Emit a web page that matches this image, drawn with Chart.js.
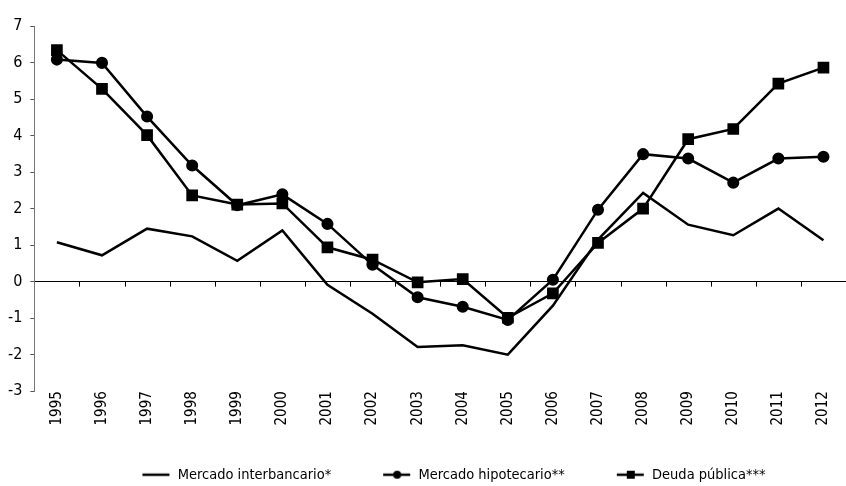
<!DOCTYPE html>
<html>
<head>
<meta charset="utf-8">
<script src="https://cdn.jsdelivr.net/npm/chart.js@4/dist/chart.umd.min.js"></script>
<style>
  html, body { margin: 0; padding: 0; background: #fff; }
  #wrap { width: 846px; height: 486px; }
</style>
</head>
<body>
<div id="wrap"><canvas id="chart" width="846" height="486"></canvas></div>
<script>
const years = ['1995','1996','1997','1998','1999','2000','2001','2002','2003','2004','2005','2006','2007','2008','2009','2010','2011','2012'];
const interbancario = [1.08, 0.72, 1.45, 1.24, 0.57, 1.40, -0.09, -0.88, -1.79, -1.74, -2.0, -0.66, 1.15, 2.43, 1.56, 1.27, 2.0, 1.13];
const hipotecario = [6.08, 5.99, 4.52, 3.18, 2.09, 2.39, 1.58, 0.46, -0.43, -0.69, -1.05, 0.05, 1.97, 3.49, 3.37, 2.71, 3.37, 3.42];
const deuda = [6.34, 5.28, 4.01, 2.36, 2.11, 2.14, 0.94, 0.60, -0.02, 0.07, -0.99, -0.32, 1.06, 2.0, 3.90, 4.18, 5.42, 5.86];
const seriesNames = ['Mercado interbancario*', 'Mercado hipotecario**', 'Deuda pública***'];

const FONT = '"Liberation Sans Narrow", "DejaVu Sans Condensed", "Roboto", sans-serif';

// legend icons: line with marker, with empty room on the left as spacing
function legendIcon(marker) {
  const c = document.createElement('canvas');
  c.width = 70; c.height = 12;
  const g = c.getContext('2d');
  g.strokeStyle = '#000'; g.fillStyle = '#000'; g.lineWidth = 2.5;
  g.beginPath(); g.moveTo(42, 6); g.lineTo(69, 6); g.stroke();
  if (marker === 'circle') {
    g.beginPath(); g.arc(56, 6, 4, 0, Math.PI * 2); g.fill();
  } else if (marker === 'rect') {
    g.fillRect(52, 2, 8, 8);
  }
  return c;
}
const icons = [legendIcon(null), legendIcon('circle'), legendIcon('rect')];

// small ticks hanging below the zero line, legend nudged right
const zeroTicks = {
  id: 'zeroTicks',
  afterLayout(chart) {
    chart.legend.left += 10;
    chart.legend.right += 10;
  },
  afterDatasetsDraw(chart) {
    const { ctx, scales: { x, y } } = chart;
    const y0 = y.getPixelForValue(0);
    ctx.save();
    ctx.strokeStyle = '#000';
    ctx.lineWidth = 1;
    for (let i = 1; i < years.length; i++) {
      const px = Math.round((x.getPixelForValue(i - 1) + x.getPixelForValue(i)) / 2) + 0.5;
      ctx.beginPath(); ctx.moveTo(px, y0); ctx.lineTo(px, y0 + 5); ctx.stroke();
    }
    ctx.restore();
  }
};

const common = { borderColor: '#000', backgroundColor: '#000', borderWidth: 2.5, tension: 0, fill: false };

new Chart(document.getElementById('chart'), {
  type: 'line',
  data: {
    labels: years,
    datasets: [
      { ...common, label: seriesNames[0], data: interbancario, pointRadius: 0 },
      { ...common, label: seriesNames[1], data: hipotecario, pointStyle: 'circle', pointRadius: 4.8 },
      { ...common, label: seriesNames[2], data: deuda, pointStyle: 'rect', pointRadius: 6.5 }
    ]
  },
  options: {
    responsive: false,
    animation: false,
    layout: { autoPadding: false, padding: { left: 0, right: 0, top: 26, bottom: -6 } },
    plugins: {
      tooltip: { enabled: false },
      legend: {
        position: 'bottom',
        labels: {
          usePointStyle: true,
          pointStyleWidth: 70,
          color: '#000',
          font: { family: FONT, size: 14.5 },
          padding: 10,
          generateLabels(chart) {
            return chart.data.datasets.map((ds, i) => ({
              text: ds.label, pointStyle: icons[i], fontColor: '#000',
              strokeStyle: '#000', fillStyle: '#000', lineWidth: 0, datasetIndex: i
            }));
          }
        }
      }
    },
    scales: {
      x: {
        offset: true,
        grid: { display: false, drawTicks: false, offset: true },
        border: { display: false },
        ticks: { color: '#000', font: { family: FONT, size: 15 }, minRotation: 90, maxRotation: 90, padding: 0, autoSkip: false },
        afterFit(scale) {
          scale.height += 32;
        }
      },
      y: {
        min: -3, max: 7,
        border: { display: true, color: '#777', width: 1 },
        grid: {
          drawOnChartArea: true,
          color: ctx => ctx.tick && ctx.tick.value === 0 ? '#000' : 'rgba(0,0,0,0)',
          tickColor: '#555', tickLength: 4, lineWidth: 1
        },
        ticks: { stepSize: 1, color: '#000', font: { family: FONT, size: 16 }, padding: 8 }
      }
    }
  },
  plugins: [zeroTicks]
});
</script>
</body>
</html>
